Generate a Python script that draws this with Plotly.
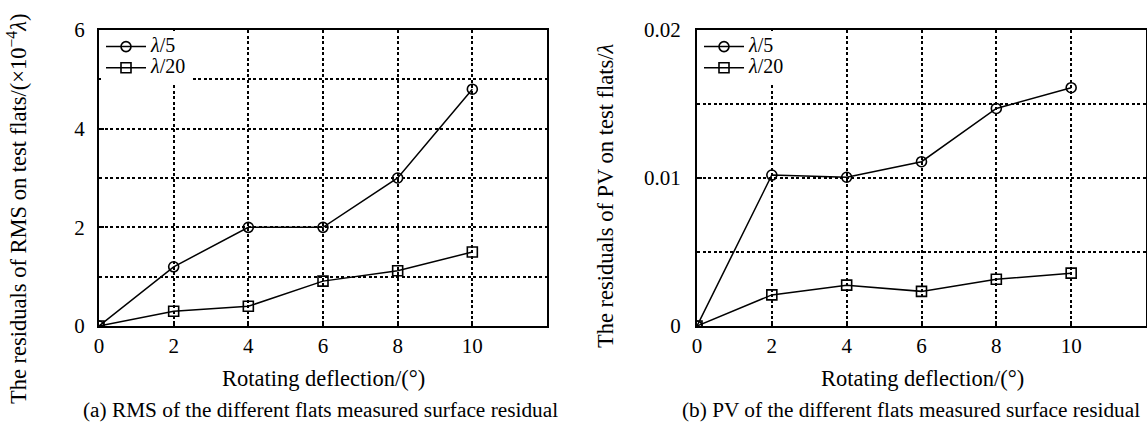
import plotly.graph_objects as go

# ---- data ----
deflection = [0, 2, 4, 6, 8, 10]
rms_l5 = [0, 1.2, 2.0, 2.0, 3.0, 4.8]
rms_l20 = [0, 0.3, 0.4, 0.91, 1.12, 1.5]
pv_l5 = [0, 0.0102, 0.01005, 0.0111, 0.0147, 0.0161]
pv_l20 = [0, 0.0021, 0.00276, 0.00234, 0.00316, 0.00357]
series_names = ["<i>λ</i>/5", "<i>λ</i>/20"]
x_tickvals = [0, 2, 4, 6, 8, 10]
x_ticktext = ["0", "2", "4", "6", "8", "10"]
rms_tickvals = [0, 2, 4, 6]
rms_ticktext = ["0", "2", "4", "6"]
pv_tickvals = [0, 0.01, 0.02]
pv_ticktext = ["0", "0.01", "0.02"]

FONT = "Liberation Serif"
FS = 21
W, H = 1147, 423

fig = go.Figure()

def add(x, y, name, sym, xa, ya, leg):
    fig.add_trace(go.Scatter(
        x=x, y=y, name='<span style="font-size:20px">%s</span>' % name,
        mode="lines+markers",
        line=dict(color="black", width=1.5),
        marker=dict(symbol=sym, size=10, color="black",
                    line=dict(color="black", width=1.6)),
        xaxis=xa, yaxis=ya, legend=leg))

add(deflection, rms_l5, series_names[0], "circle-open", "x", "y", "legend")
add(deflection, rms_l20, series_names[1], "square-open", "x", "y", "legend")
add(deflection, pv_l5, series_names[0], "circle-open", "x2", "y2", "legend2")
add(deflection, pv_l20, series_names[1], "square-open", "x2", "y2", "legend2")

ydom = [1 - 326 / H, 1 - 30 / H]
grid_style = dict(gridcolor="black", gridwidth=1.8, griddash="3px,2.5px")
common_ax = dict(showline=True, linecolor="black", linewidth=2, mirror=True,
                 showgrid=True, zeroline=False, ticks="inside",
                 ticklen=5, tickcolor="black", tickwidth=1.5,
                 tickfont=dict(family=FONT, size=FS, color="black"),
                 automargin=False, **grid_style)

def leg(xpx, ypx):
    return dict(x=xpx / W, y=1 - ypx / H, xanchor="left", yanchor="top",
                bgcolor="white", borderwidth=0,
                font=dict(family=FONT, size=14), tracegroupgap=0,
                itemwidth=40)

fig.update_layout(
    width=W, height=H,
    margin=dict(l=0, r=0, t=0, b=0),
    paper_bgcolor="white", plot_bgcolor="white",
    font=dict(family=FONT, size=FS, color="black"),
    xaxis=dict(domain=[99 / W, 547 / W], range=[0, 12],
               tickvals=x_tickvals, ticktext=x_ticktext, **common_ax),
    yaxis=dict(domain=ydom, range=[0, 6],
               tickvals=rms_tickvals, ticktext=rms_ticktext,
               ticklabelstandoff=8,
               minor=dict(dtick=1, showgrid=True, ticks="", **grid_style),
               **common_ax),
    xaxis2=dict(domain=[697 / W, 1146 / W], range=[0, 12], anchor="y2",
                tickvals=x_tickvals, ticktext=x_ticktext, **common_ax),
    yaxis2=dict(domain=ydom, range=[0, 0.02], anchor="x2",
                tickvals=pv_tickvals, ticktext=pv_ticktext,
                ticklabelstandoff=10,
                minor=dict(dtick=0.005, showgrid=True, ticks="", **grid_style),
                **common_ax),
    legend=leg(101, 31),
    legend2=leg(699, 31),
    showlegend=True,
)

ann = [
    dict(text="The residuals of RMS on test flats/(×10<sup>−4</sup><i>λ</i>)",
         x=17 / W, y=1 - 209 / H, textangle=-90, size=22.5, xanchor="center"),
    dict(text="The residuals of PV on test flats/<i>λ</i>",
         x=605 / W, y=1 - 196 / H, textangle=-90, size=22.5, xanchor="center"),
    dict(text="Rotating deflection/(°)", x=323 / W, y=1 - 378 / H,
         size=22.5, xanchor="center"),
    dict(text="Rotating deflection/(°)", x=922 / W, y=1 - 378 / H,
         size=22.5, xanchor="center"),
    dict(text="(a) RMS of the different flats measured surface residual",
         x=320 / W, y=1 - 410 / H, size=21.3, xanchor="center"),
    dict(text="(b) PV of the different flats measured surface residual",
         x=1142 / W, y=1 - 410 / H, size=21.3, xanchor="right"),
]
for a in ann:
    size = a.pop("size")
    fig.add_annotation(xref="paper", yref="paper", showarrow=False,
                       yanchor="middle",
                       font=dict(family=FONT, size=size, color="black"), **a)

fig.write_html("out.html",
               config={"displayModeBar": False},
               post_script="document.body.style.margin='0';"
                           "document.body.style.overflow='hidden';")
